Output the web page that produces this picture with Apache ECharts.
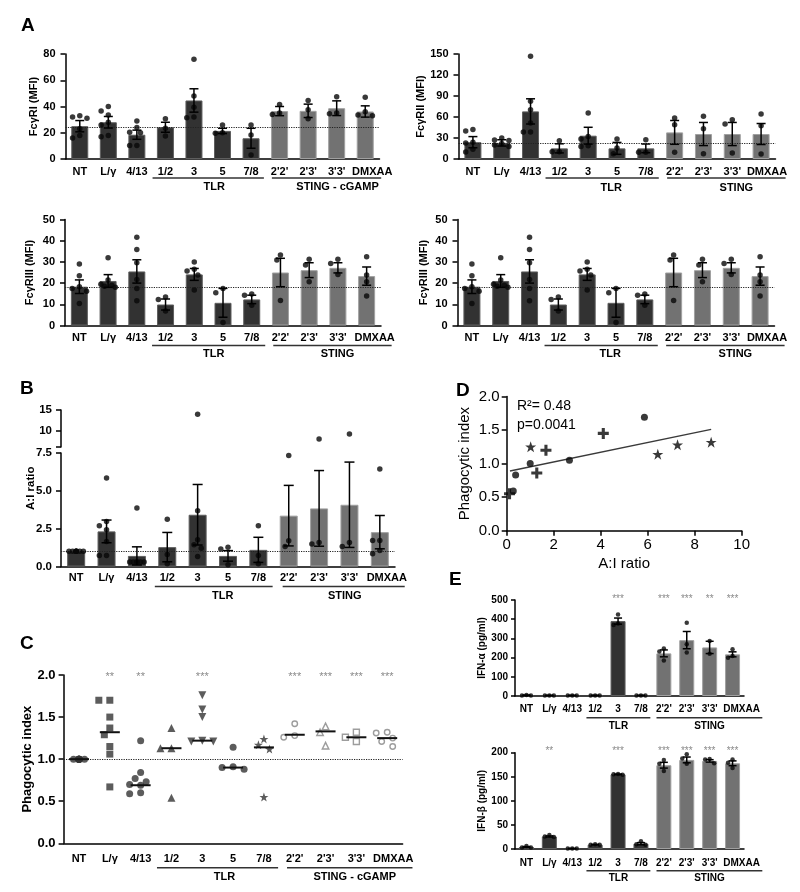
<!DOCTYPE html>
<html><head><meta charset="utf-8">
<script src="https://cdn.jsdelivr.net/npm/echarts@6/dist/echarts.min.js"></script>
<style>html,body{margin:0;padding:0;background:#fff}#c{width:800px;height:892px}</style>
</head><body><div id="c"></div>
<script>
const FONT = '"Liberation Sans", Arial, Helvetica, sans-serif';

// ---------------- DATA ----------------
const cats = ['NT','L/γ','4/13','1/2','3','5','7/8',"2'2'","2'3'","3'3'",'DMXAA'];
const catsE = ['NT','L/γ','4/13','1/2','3','7/8',"2'2'","2'3'","3'3'",'DMXAA'];

// A: FcγRI
const a1Mean = [25, 28, 18.5, 24.2, 44.6, 21.4, 15.8, 36.5, 36.7, 38.7, 36.2];
const a1Sem  = [4.3, 4.4, 3.5, 3.8, 8.9, 2.0, 7.6, 3.5, 5.1, 5.6, 4.3];
const a1Pts  = [[33,31,32,23,16,18],[40,36.5,33.5,28,26,18,17],[29,24,20.4,20,10.2,10.2],[30.6,23.4,17.6],[76,48,39.5,32,31.5],[26,20,19.6],[26,18.3,3],[41.5,35,34],[44.6,37.5,30.6],[47.5,34.5,35],[47,36,33.5,33]];
const a1Ref = 24;
// A: FcγRII
const a2Mean = [24, 23, 68, 15.2, 33.3, 15.2, 15.2, 38, 35.7, 35.7, 35.7];
const a2Sem  = [8, 4.5, 18, 6.5, 12, 8.5, 6.2, 17, 16.5, 16.5, 15];
const a2Pts  = [[40,42,23,24,10,14],[27,26.5,30,18,20,22],[146.7,82.4,70.5,38.6,38.6,51.4],[26,10.5,10.5],[65.7,32,28.6,19,18],[28.6,15.7,7.6],[27.6,9.5,9.5],[58.6,49,9.5],[61,43.3,7.6],[56,50,8.6],[64.3,47.6,7.1]];
const a2Ref = 23;
// A: FcγRIII
const a3Mean = [18.3, 21, 25.5, 9.9, 24.1, 10.7, 12.3, 25, 26.1, 27.2, 23.3];
const a3Sem  = [3.2, 3, 5.5, 2.6, 2.8, 6.8, 2, 6.7, 3.5, 2.4, 4.3];
const a3Pts  = [[29,23.5,18.3,17.5,16.2,10.4],[32,21.5,19,18.5,18,19.5],[41.6,35.9,29.6,21.7,17.5,11.7],[13.5,12.3,6.8],[30,26.5,25.7,23.8,16.7],[17.5,15.4,1.4],[14.8,14.3,9.6],[33.2,30.9,11.8],[31.2,28.5,20.6],[31.2,29.3,24.1],[32.4,23.8,20.6,13.9]];
const a3Ref = 18;

// B: A:I ratio (broken y axis)
const bMean = [1.0, 2.32, 0.7, 1.28, 3.42, 0.7, 1.1, 3.36, 3.84, 4.08, 2.27];
const bSem  = [0, 0.75, 0.6, 0.97, 2.0, 0.35, 0.83, 2.0, 2.5, 2.82, 1.1];
const bPts  = [[1,1,1,1,1,1,1,1],[5.85,2.98,2.69,2.43,1.66,0.73,0.73],[3.86,0.3,0.3,0.3,0.3,0.3,0.3],[3.12,0.8,0.18],[14.0,3.69,1.77,1.44,1.2,0.66],[1.28,1.15,0.11],[2.69,0.73,0.18],[7.33,1.7,1.32],[8.1,1.48,1.59],[9.3,1.32,1.59],[6.45,1.72,1.72,0.84,1.06]];
const bRef = 1;
const bLowTicks = [0, 2.5, 5, 7.5];
const bUpTicks = [10, 15];

// C: phagocytic index
const cPts = [[1,1,1,1,1,1,1,1,1],[1.70,1.70,1.50,1.37,1.29,1.15,1.06,0.67],[1.22,0.84,0.77,0.73,0.70,0.69,0.60,0.59],[1.37,1.13,1.13,0.54],[1.76,1.59,1.50,1.21,1.21,1.22],[1.14,0.90,0.88,0.91],[1.24,1.17,1.12,0.55],[1.42,1.26,1.28],[1.39,1.32,1.16],[1.32,1.21,1.26],[1.31,1.32,1.25,1.21,1.15]];
const cMed = [1.0, 1.32, 0.69, 1.13, 1.22, 0.90, 1.14, 1.29, 1.33, 1.26, 1.25];
const cSig = ['', '**', '**', '', '***', '', '', '***', '***', '***', '***'];
const cRef = 1;

// D: correlation
const dCirc = [[0.28,0.59],[0.38,0.83],[1.0,1.0],[2.67,1.05],[5.86,1.69]];
const dPlus = [[0.12,0.55],[1.28,0.86],[1.67,1.2],[4.11,1.45]];
const dStar = [[1.02,1.25],[6.43,1.14],[7.27,1.28],[8.7,1.32]];
const dFit  = [[0.14,0.89],[8.7,1.51]];

// E: IFN-α / IFN-β
const e1Mean = [4, 3, 3, 3, 390, 3, 222, 291, 253, 217];
const e1Sem  = [1, 0.5, 0.5, 0.5, 16, 0.5, 18, 45, 32, 13];
const e1Pts  = [[5,3,3],[3,3,3],[3,3,3],[3,3,3],[425,370,378],[3,3,3],[248,232,185],[381,270,227],[286,220],[244,208,199]];
const e1Sig  = ['', '', '', '', '***', '', '***', '***', '**', '***'];
const e2Mean = [4, 26, 1, 9, 155, 11, 174, 185, 183, 178];
const e2Sem  = [1, 1.2, 0.2, 0.5, 0.7, 2.2, 6, 6, 2.5, 5];
const e2Pts  = [[6,3,3],[29,26,25],[1,1,1],[10,9,9],[154,155,156],[16,10,9],[185,177,162],[197,188,177],[186,187,178],[186,179,168]];
const e2Sig  = ['', '**', '', '', '***', '', '***', '***', '***', '***'];

// ---------------- BUILD ----------------
const DARK='#323232', DARK_B='#5e5e5e', GRAY='#727272', GRAY_B='#a0a0a0';
const grids=[], xAxes=[], yAxes=[], series=[], groupDefs=[];

function swarm(vals, pxOf, d, step, maxSlot){
  const order = vals.map((v,i)=>i).sort((a,b)=>vals[b]-vals[a]);
  const slots=[0]; for(let k=1;k<=maxSlot;k++){slots.push(-k,k);}
  const placed=[], off=new Array(vals.length).fill(0);
  for(const i of order){
    const y=pxOf(vals[i]);
    let chosen=null, bestX=0, bestMin=-1;
    for(const s of slots){
      const x=s*step; let m=Infinity;
      for(const p of placed){const dd=Math.hypot(p.x-x,p.y-y); if(dd<m)m=dd;}
      if(m>=d){chosen=x;break;}
      if(m>bestMin){bestMin=m;bestX=x;}
    }
    if(chosen===null) chosen=bestX;
    placed.push({x:chosen,y}); off[i]=chosen;
  }
  return off;
}
function pointItems(pts, pxOf, cfg){
  const items=[];
  pts.forEach((vals,i)=>{
    const ms=Array.isArray(cfg.maxSlot)?cfg.maxSlot[i]:cfg.maxSlot;
    const off=swarm(vals,pxOf,cfg.d,cfg.step,ms);
    vals.forEach((v,k)=>items.push({value:[i,v], symbolOffset:[off[k],0]}));
  });
  return items;
}
function linPx(min,max,h){return v=>(v-min)/(max-min)*h;}

function catX(gi, data, fs, margin, shift, show){
  const sh = shift||0;
  xAxes.push({type:'category', gridIndex:gi, data:data, boundaryGap:true, show:show!==false,
    axisLine:{show:true, lineStyle:{color:'#000', width:1.5}}, axisTick:{show:false},
    axisLabel:{interval:0, color:'#000', fontFamily:FONT, fontWeight:'bold', fontSize:fs, margin:margin,
      formatter: v => (v==='DMXAA' && sh) ? '{d|'+v+'}' : v,
      rich:{d:{padding:[0,0,0,2*sh], fontWeight:'bold', fontSize:fs, fontFamily:FONT, color:'#000'}}},
    splitLine:{show:false}});
  return xAxes.length-1;
}
function valY(gi, o){
  yAxes.push({type:'value', gridIndex:gi, min:o.min, max:o.max, interval:o.interval,
    name:o.yName||'', nameLocation:'middle', nameGap:o.nameGap||20,
    nameTextStyle:{color:'#000', fontFamily:FONT, fontWeight:o.nameWeight||'bold', fontSize:o.nfs||11},
    axisLine:{show:true, lineStyle:{color:'#000', width:1.5}},
    axisTick:Object.assign({show:true, length:o.tickLen||5, lineStyle:{color:'#000', width:1.5}}, o.tickExtra||{}),
    axisLabel:Object.assign({color:'#000', fontFamily:FONT, fontWeight:o.labelWeight||'bold', fontSize:o.yfs||11, margin:o.ym||9, formatter:o.fmt}, o.labelExtra||{}),
    splitLine:{show:false}});
  return yAxes.length-1;
}
function errSeries(xi, yi, mean, sem, capW, z){
  return {type:'custom', xAxisIndex:xi, yAxisIndex:yi, z:z||6, silent:true,
    data: mean.map((m,i)=>[i,m,sem[i]]), encode:{x:0,y:1},
    renderItem:(params, api)=>{
      const x=api.value(0), m=api.value(1), s=api.value(2);
      if(!s) return {type:'group', children:[]};
      const p1=api.coord([x,m+s]), p2=api.coord([x,m-s]); const w=capW/2;
      const st={stroke:'#000', lineWidth:1.5};
      return {type:'group', children:[
        {type:'line', shape:{x1:p1[0],y1:p1[1],x2:p2[0],y2:p2[1]}, style:st},
        {type:'line', shape:{x1:p1[0]-w,y1:p1[1],x2:p1[0]+w,y2:p1[1]}, style:st},
        {type:'line', shape:{x1:p2[0]-w,y1:p2[1],x2:p2[0]+w,y2:p2[1]}, style:st}]};
    }};
}
function refLine(v){
  return {silent:true, symbol:['none','none'], label:{show:false},
    lineStyle:{type:'dotted', color:'#222', width:1.2}, data:[{yAxis:v}]};
}
function sigAxis(gi, data, fs, margin){
  xAxes.push({type:'category', gridIndex:gi, position:'top', data:data, boundaryGap:true,
    axisLine:{show:false}, axisTick:{show:false}, splitLine:{show:false},
    axisLabel:{interval:0, color:'#8a8a8a', fontFamily:FONT, fontSize:fs, margin:margin}});
}

function barPanel(o){
  const gi=grids.length; grids.push({left:o.left, top:o.top, width:o.width, height:o.height});
  const xi=catX(gi, o.cats, o.fs, o.xm, o.shift);
  const yi=valY(gi, o);
  const items=pointItems(o.pts, linPx(o.min,o.max,o.height), o.sw);
  const bar={type:'bar', xAxisIndex:xi, yAxisIndex:yi, barWidth:o.barW, z:2,
    data:o.mean.map((v,i)=>({value:v, itemStyle:{color:i>=o.stingFrom?GRAY:DARK, borderColor:i>=o.stingFrom?GRAY_B:DARK_B, borderWidth:1}}))};
  if(o.ref!=null) bar.markLine=refLine(o.ref);
  series.push(bar);
  series.push({type:'scatter', xAxisIndex:xi, yAxisIndex:yi, symbol:'circle', symbolSize:o.msize, z:5, silent:true,
    itemStyle:{color:'#080808'}, data:items});
  series.push(errSeries(xi, yi, o.mean, o.sem, o.capW, 6));
  if(o.sig) sigAxis(gi, o.sig, o.sfs, o.sm);
  groupDefs.push({xi, left:o.left, width:o.width, n:o.cats.length, axisY:o.top+o.height, lineOff:o.lineOff, textOff:o.textOff, fs:o.fs, groups:o.groups});
}

const swA = {d:6, step:3.6, maxSlot:2};
const intFmt = v=>String(v);

barPanel({left:65.5, top:54, width:314, height:105, cats, mean:a1Mean, sem:a1Sem, pts:a1Pts, ref:a1Ref,
  min:0, max:80, interval:20, fmt:intFmt, yName:'FcγRI (MFI)', nameGap:25, fs:11, yfs:11, nfs:11, xm:7, ym:10, shift:7,
  barW:17, capW:9, msize:5.5, stingFrom:7, sw:swA, lineOff:19, textOff:28,
  groups:[{a:3,b:6,label:'TLR',l:.45,r:.45,dx:6},{a:7,b:10,label:'STING - cGAMP',l:.27,r:.56,dx:11}]});
barPanel({left:458.5, top:54, width:317, height:105, cats, mean:a2Mean, sem:a2Sem, pts:a2Pts, ref:a2Ref,
  min:0, max:150, interval:30, fmt:intFmt, yName:'FcγRII (MFI)', nameGap:28, fs:11, yfs:11, nfs:11, xm:7, ym:10, shift:6,
  barW:17, capW:9, msize:5.5, stingFrom:7, sw:swA, lineOff:19, textOff:29,
  groups:[{a:3,b:6,label:'TLR',l:.48,r:.45,dx:9},{a:7,b:10,label:'STING',l:.26,r:.85,dx:10}]});
barPanel({left:65, top:219.5, width:316, height:106, cats, mean:a3Mean, sem:a3Sem, pts:a3Pts, ref:a3Ref,
  min:0, max:50, interval:10, fmt:intFmt, yName:'FcγRIII (MFI)', nameGap:30, fs:11, yfs:11, nfs:11, xm:6.5, ym:10, shift:8,
  barW:17, capW:9, msize:5.5, stingFrom:7, sw:swA, lineOff:20, textOff:28,
  groups:[{a:3,b:6,label:'TLR',l:.47,r:.47,dx:5},{a:7,b:10,label:'STING',l:.25,r:.87,dx:5}]});
barPanel({left:457.5, top:219.5, width:317, height:106, cats, mean:a3Mean, sem:a3Sem, pts:a3Pts, ref:a3Ref,
  min:0, max:50, interval:10, fmt:intFmt, yName:'FcγRIII (MFI)', nameGap:28, fs:11, yfs:11, nfs:11, xm:6.5, ym:10, shift:7,
  barW:17, capW:9, msize:5.5, stingFrom:7, sw:swA, lineOff:20, textOff:28,
  groups:[{a:3,b:6,label:'TLR',l:.48,r:.45,dx:9},{a:7,b:10,label:'STING',l:.26,r:.85,dx:10}]});

// ---- B (broken axis: two grids) ----
(function(){
  const L=61, W=334, lowTop=453, lowH=113.5, upTop=410, upH=37, brk=7.5, upMin=6.2, upMax=15, gap=6;
  const pxOf = v => v<=brk ? v/brk*lowH : lowH+gap+(v-upMin)/(upMax-upMin)*upH;
  const items = pointItems(bPts, pxOf, swA);
  // lower
  const gl=grids.length; grids.push({left:L, top:lowTop, width:W, height:lowH});
  const xl=catX(gl, cats, 11, 5.5, 7);
  const yl=valY(gl, {min:0, max:7.5, interval:2.5, fmt:v=>v.toFixed(1), yfs:11.5, ym:9,
    tickExtra:{customValues:bLowTicks}, labelExtra:{customValues:bLowTicks}});
  series.push({type:'bar', xAxisIndex:xl, yAxisIndex:yl, barWidth:18, z:2,
    data:bMean.map((v,i)=>({value:v, itemStyle:{color:i>=7?GRAY:DARK, borderColor:i>=7?GRAY_B:DARK_B, borderWidth:1}})),
    markLine:refLine(bRef)});
  series.push({type:'scatter', xAxisIndex:xl, yAxisIndex:yl, symbol:'circle', symbolSize:5.5, z:5, silent:true,
    itemStyle:{color:'#080808'}, data:items.filter(it=>it.value[1]<=brk)});
  series.push(errSeries(xl, yl, bMean, bSem, 10, 6));
  groupDefs.push({xi:xl, left:L, width:W, n:11, axisY:lowTop+lowH, lineOff:20, textOff:29, fs:11,
    groups:[{a:3,b:6,label:'TLR',l:.41,r:.47,dx:9},{a:7,b:10,label:'STING',l:.2,r:.82,dx:1}]});
  // upper
  const gu=grids.length; grids.push({left:L, top:upTop, width:W, height:upH});
  const xu=catX(gu, cats, 11, 5, 0, false);
  const yu=valY(gu, {min:upMin, max:upMax, yfs:11.5, ym:9,
    fmt:v=>bUpTicks.indexOf(v)>=0?String(v):'',
    tickExtra:{customValues:[upMin].concat(bUpTicks)}, labelExtra:{customValues:bUpTicks}});
  series.push({type:'scatter', xAxisIndex:xu, yAxisIndex:yu, symbol:'circle', symbolSize:5.5, z:5, silent:true,
    itemStyle:{color:'#080808'}, data:items.filter(it=>it.value[1]>brk)});
  // name-only axis spanning both segments
  const gn=grids.length; grids.push({left:L, top:upTop, width:W, height:lowTop+lowH-upTop});
  xAxes.push({type:'value', gridIndex:gn, show:false, min:0, max:1});
  yAxes.push({type:'value', gridIndex:gn, min:0, max:1, name:'A:I ratio', nameLocation:'middle', nameGap:24,
    nameTextStyle:{color:'#000', fontFamily:FONT, fontWeight:'bold', fontSize:11.5},
    axisLine:{show:false}, axisTick:{show:false}, axisLabel:{show:false}, splitLine:{show:false}});
})();

// ---- C ----
(function(){
  const L=63.6, T=675, W=339, H=168.3;
  const gi=grids.length; grids.push({left:L, top:T, width:W, height:H});
  const xi=catX(gi, cats, 11, 10, 6);
  const yi=valY(gi, {min:0, max:2, interval:0.5, fmt:v=>v.toFixed(1), yName:'Phagocytic index', nameGap:25, nfs:13, yfs:13, ym:8});
  sigAxis(gi, cSig, 11, -7.5);
  const STAR='path://M50,2 L62,38 L98,38 L69,59 L80,95 L50,73 L20,95 L31,59 L2,38 L38,38 Z';
  const INV='path://M0,0 L10,0 L5,9 Z';
  const cSym=['circle','rect','circle','triangle',INV,'circle',STAR,'circle','triangle','rect','circle'];
  const cSize=[7,7,7,8,8,7,9,5.5,6.5,6,5.5];
  const items=pointItems(cPts, linPx(0,2,H), {d:7.5, step:5.5, maxSlot:[1,2,2,2,2,2,2,2,2,2,2]});
  items.forEach(it=>{
    const i=it.value[0], open=i>=7;
    it.symbol=cSym[i]; it.symbolSize=cSize[i];
    it.itemStyle= open?{color:'#fff', borderColor:'#858585', borderWidth:1.4}:{color:'#333', borderWidth:0};
  });
  series.push({type:'scatter', xAxisIndex:xi, yAxisIndex:yi, z:5, silent:true, data:items,
    markLine:refLine(cRef)});
  series.push({type:'custom', xAxisIndex:xi, yAxisIndex:yi, z:7, silent:true,
    data:cMed.map((m,i)=>[i,m]), encode:{x:0,y:1},
    renderItem:(p,api)=>{const c=api.coord([api.value(0),api.value(1)]);
      return {type:'line', shape:{x1:c[0]-10,y1:c[1],x2:c[0]+10,y2:c[1]}, style:{stroke:'#111', lineWidth:2}};}});
  groupDefs.push({xi, left:L, width:W, n:11, axisY:T+H, lineOff:24.5, textOff:34, fs:11,
    groups:[{a:3,b:6,label:'TLR',l:.47,r:.46,dx:7},{a:7,b:10,label:'STING - cGAMP',l:.25,r:.82,dx:5}]});
})();

// ---- D ----
(function(){
  const gi=grids.length; grids.push({left:506.7, top:396.5, width:235, height:134.2});
  xAxes.push({type:'value', gridIndex:gi, min:0, max:10, interval:2, name:'A:I ratio', nameLocation:'middle', nameGap:26,
    nameTextStyle:{color:'#000', fontFamily:FONT, fontSize:15},
    axisLine:{show:true, lineStyle:{color:'#000', width:1.5}}, axisTick:{show:true, length:5, lineStyle:{color:'#000', width:1.5}},
    axisLabel:{color:'#000', fontFamily:FONT, fontSize:15, margin:7}, splitLine:{show:false}});
  const xi=xAxes.length-1;
  const yi=valY(gi, {min:0, max:2, interval:0.5, fmt:v=>v.toFixed(1), yName:'Phagocytic index', nameGap:34, nfs:15, yfs:15, ym:7, nameWeight:'normal', labelWeight:'normal'});
  series.push({type:'line', xAxisIndex:xi, yAxisIndex:yi, data:dFit, showSymbol:false, silent:true, z:3,
    lineStyle:{color:'#3a3a3a', width:1.5}});
  series.push({type:'scatter', xAxisIndex:xi, yAxisIndex:yi, data:dCirc, symbol:'circle', symbolSize:7, itemStyle:{color:'#080808'}, z:5});
  series.push({type:'scatter', xAxisIndex:xi, yAxisIndex:yi, data:dPlus, symbol:'path://M3.6,0 H6.4 V3.6 H10 V6.4 H6.4 V10 H3.6 V6.4 H0 V3.6 H3.6 Z', symbolSize:11, itemStyle:{color:'#080808'}, z:5});
  series.push({type:'scatter', xAxisIndex:xi, yAxisIndex:yi, data:dStar, symbol:'path://M50,2 L62,38 L98,38 L69,59 L80,95 L50,73 L20,95 L31,59 L2,38 L38,38 Z', symbolSize:11, itemStyle:{color:'#080808'}, z:5});
})();

// ---- E ----
const swE = {d:5.5, step:4.5, maxSlot:1};
const grpE = [{a:3,b:5,label:'TLR',l:.38,r:.41,dx:0},{a:6,b:9,label:'STING',l:.32,r:1.3,dx:0}];
barPanel({left:515, top:600, width:229, height:96, cats:catsE, mean:e1Mean, sem:e1Sem, pts:e1Pts, ref:null,
  min:0, max:500, interval:100, fmt:intFmt, yName:'IFN-α (pg/ml)', nameGap:26, fs:10, yfs:10, nfs:10, xm:8, ym:7, tickLen:4, shift:9,
  barW:15, capW:8, msize:4.5, stingFrom:6, sw:swE, groups:grpE, lineOff:21.7, textOff:30.7, sig:e1Sig, sfs:10, sm:-4});
barPanel({left:515, top:752.7, width:229, height:96.3, cats:catsE, mean:e2Mean, sem:e2Sem, pts:e2Pts, ref:null,
  min:0, max:200, interval:50, fmt:intFmt, yName:'IFN-β (pg/ml)', nameGap:26, fs:10, yfs:10, nfs:10, xm:9, ym:7, tickLen:4, shift:9,
  barW:15, capW:8, msize:4.5, stingFrom:6, sw:swE, groups:grpE, lineOff:21.7, textOff:29.3, sig:e2Sig, sfs:10, sm:-3.5});

const titleStyle = {fontSize:19, fontWeight:'bold', color:'#000', fontFamily:FONT};
const option = {
  animation:false, backgroundColor:'#fff', textStyle:{fontFamily:FONT},
  title:[
    {text:'A', left:16, top:11, textStyle:titleStyle},
    {text:'B', left:15, top:374, textStyle:titleStyle},
    {text:'C', left:15, top:629, textStyle:titleStyle},
    {text:'D', left:451, top:376, textStyle:titleStyle},
    {text:'E', left:444, top:565, textStyle:titleStyle},
    {text:'R²= 0.48', left:512, top:394, textStyle:{fontSize:14, fontWeight:'normal', color:'#000', fontFamily:FONT}},
    {text:'p=0.0041', left:512, top:413, textStyle:{fontSize:14, fontWeight:'normal', color:'#000', fontFamily:FONT}}
  ],
  grid:grids, xAxis:xAxes, yAxis:yAxes, series:series
};
const chart = echarts.init(document.getElementById('c'), null, {renderer:'canvas'});
chart.setOption(option);

// group underlines and labels, positioned from the category axes
const els=[];
groupDefs.forEach(g=>{
  const band=g.width/g.n;
  g.groups.forEach(gr=>{
    let xa=chart.convertToPixel({xAxisIndex:g.xi}, gr.a);
    let xb=chart.convertToPixel({xAxisIndex:g.xi}, gr.b);
    if(typeof xa!=='number'||isNaN(xa)) xa=g.left+band*(gr.a+0.5);
    if(typeof xb!=='number'||isNaN(xb)) xb=g.left+band*(gr.b+0.5);
    const x1=xa-gr.l*band, x2=xb+gr.r*band;
    const y=g.axisY+g.lineOff;
    els.push({type:'line', silent:true, shape:{x1:x1,y1:y,x2:x2,y2:y}, style:{stroke:'#333', lineWidth:1.5}});
    els.push({type:'text', silent:true, x:(x1+x2)/2+gr.dx, y:g.axisY+g.textOff,
      style:{text:gr.label, font:'bold '+g.fs+'px '+FONT, fill:'#000', textAlign:'center', textVerticalAlign:'middle', align:'center', verticalAlign:'middle'}});
  });
});
chart.setOption({graphic:{elements:els}});
</script></body></html>
